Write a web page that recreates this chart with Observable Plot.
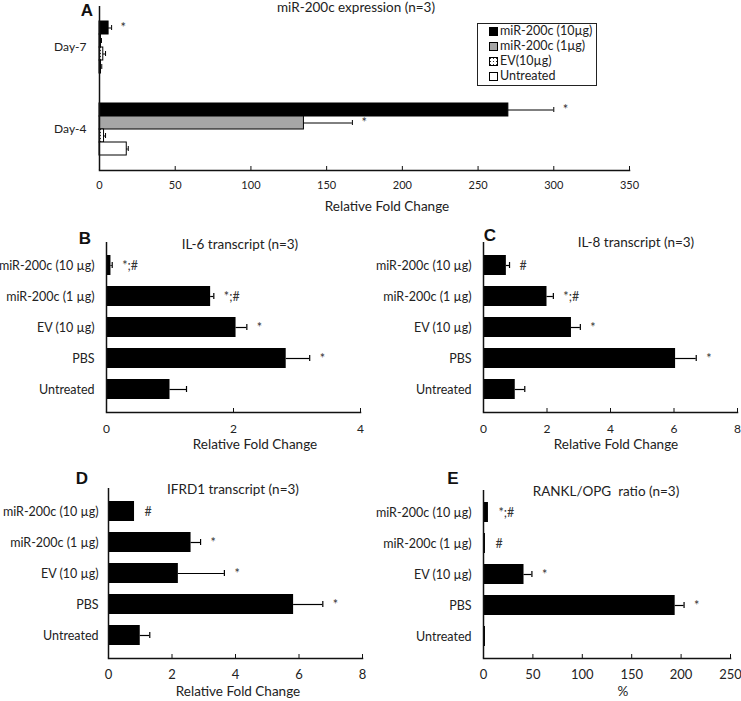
<!DOCTYPE html>
<html><head><meta charset="utf-8">
<script src="https://cdn.jsdelivr.net/npm/d3@7"></script>
<script src="https://cdn.jsdelivr.net/npm/@observablehq/plot@0.6"></script>
<style>
body{margin:0;background:#fff;}
#root{position:relative;width:741px;height:701px;font-family:Lato,sans-serif;color:#222;overflow:hidden;}
.abs{position:absolute;white-space:pre;line-height:1;}
.c{transform:translate(-50%,-50%);}
.title{font-size:13.5px;}
.xlab{font-size:13.5px;}
.letter{font-family:"Liberation Sans",Arial,sans-serif;font-weight:bold;font-size:17px;color:#111;}
#legend{left:477px;top:23px;width:120px;height:63px;border:1px solid #222;font-size:12.5px;padding:0 0 0 11px;box-sizing:border-box;}
#legend .row{height:15px;display:flex;align-items:center;}
#legend svg{margin-right:2px;}
</style></head><body>
<svg width="0" height="0" style="position:absolute"><defs>
<pattern id="evpat" width="3" height="3" patternUnits="userSpaceOnUse"><rect width="3" height="3" fill="#fff"/><rect x="1" y="1" width="1" height="1" fill="#333"/></pattern>
</defs></svg>
<div id="root"></div>
<script>
// ---------- Panel A data ----------
const groupsA = ["Day-7", "Day-4"];
const seriesA = ["miR-200c (10µg)", "miR-200c (1µg)", "EV(10µg)", "Untreated"];
const seriesFillsA = ["#000", "#a6a6a6", "url(#evpat)", "#fff"];
const day7Values = [6, 1, 2.5, 1];
const day7Errors = [2, 0.3, 1.5, 0.5];
const day7Marks = ["*", "", "", ""];
const day4Values = [270, 135, 3, 18];
const day4Errors = [30, 32, 1, 1];
const day4Marks = ["*", "*", "", ""];
const ticksA = [0, 50, 100, 150, 200, 250, 300, 350];

// ---------- Panels B-E data ----------
const categories = ["miR-200c (10 µg)", "miR-200c (1 µg)", "EV (10 µg)", "PBS", "Untreated"];
const il6Values = [0.07, 1.64, 2.04, 2.83, 1.0];
const il6Errors = [0.02, 0.05, 0.17, 0.37, 0.26];
const il6Marks = ["*;#", "*;#", "*", "*", ""];
const ticksB = [0, 2, 4];

const il8Values = [0.72, 2.0, 2.77, 6.05, 1.0];
const il8Errors = [0.1, 0.2, 0.28, 0.65, 0.3];
const il8Marks = ["#", "*;#", "*", "*", ""];
const ticksC = [0, 2, 4, 6, 8];

const ifrd1Values = [0.82, 2.6, 2.2, 5.83, 1.0];
const ifrd1Errors = [0, 0.3, 1.45, 0.92, 0.3];
const ifrd1Marks = ["#", "*", "*", "*", ""];
const ticksD = [0, 2, 4, 6, 8];

const rankValues = [5, 2, 41, 194, 2];
const rankErrors = [0, 0, 8, 9, 0];
const rankMarks = ["*;#", "#", "*", "*", ""];
const ticksE = [0, 50, 100, 150, 200, 250];

// ---------- helpers ----------
const root = document.getElementById("root");
function place(node, left, top) {
  const d = document.createElement("div");
  d.className = "abs";
  d.style.left = left + "px"; d.style.top = top + "px";
  d.appendChild(node); root.appendChild(d); return d;
}
function label(text, cx, cy, cls) {
  const d = document.createElement("div");
  d.className = "abs c " + cls;
  d.style.left = cx + "px"; d.style.top = cy + "px";
  d.textContent = text; root.appendChild(d);
}
const ink = "#111";

// ---------- Panel A ----------
const dataA = [];
groupsA.forEach((g, gi) => {
  const vals = gi === 0 ? day7Values : day4Values;
  const errs = gi === 0 ? day7Errors : day4Errors;
  const mks = gi === 0 ? day7Marks : day4Marks;
  seriesA.forEach((s, i) => dataA.push({g, s, v: vals[i], e: errs[i], hi: vals[i] + errs[i], m: mks[i]}));
});
const plotA = Plot.plot({
  width: 741, height: 200,
  marginLeft: 99, marginRight: 112, marginTop: 5, marginBottom: 30,
  style: {fontFamily: "Lato, sans-serif", fontSize: "11px", color: "#222", background: "transparent", overflow: "visible"},
  x: {domain: [0, 350]},
  y: {domain: seriesA, paddingInner: 0, paddingOuter: 0.95, axis: null},
  fy: {domain: groupsA, padding: 0},
  color: {domain: seriesA, range: seriesFillsA},
  marks: [
    Plot.barX(dataA, {x: "v", y: "s", fy: "g", fill: "s", stroke: "#000", strokeWidth: 1}),
    Plot.ruleY(dataA.filter(d => d.e > 0), {x1: "v", x2: "hi", y: "s", fy: "g", stroke: "#000"}),
    Plot.tickX(dataA.filter(d => d.e > 0), {x: "hi", y: "s", fy: "g", stroke: "#000", insetTop: 4, insetBottom: 4}),
    Plot.text(dataA.filter(d => d.m), {x: "hi", y: "s", fy: "g", text: "m", textAnchor: "start", dx: 9, fontSize: 13, fill: "#333"}),
    Plot.ruleX([0], {stroke: ink, strokeWidth: 1.5}),
    Plot.frame({anchor: "bottom", facetAnchor: "bottom", stroke: ink, strokeWidth: 1.5}),
    Plot.axisFy({anchor: "left", tickSize: 0, tickPadding: 13, label: null, fontSize: 12}),
    Plot.axisX(ticksA, {tickSize: 4, dy: -4, tickPadding: 11, label: null, stroke: ink, fontSize: 11})
  ]
});
place(plotA, 0, 0);

// ---------- Panels B-E ----------
function panel(values, errors, marksTxt, ticks, opts) {
  const data = categories.map((c, i) => ({cat: c, v: values[i], e: errors[i], hi: values[i] + errors[i], m: marksTxt[i]}));
  return Plot.plot({
    width: opts.width, height: opts.height,
    marginLeft: opts.ml, marginRight: opts.mr, marginTop: opts.mt, marginBottom: opts.mb,
    style: {fontFamily: "Lato, sans-serif", fontSize: "12px", color: "#222", background: "transparent", overflow: "visible"},
    x: {domain: [ticks[0], ticks[ticks.length - 1]]},
    y: {domain: categories, padding: 0.35},
    marks: [
      Plot.barX(data, {x: "v", y: "cat", fill: "#000"}),
      Plot.ruleY(data.filter(d => d.e > 0), {x1: "v", x2: "hi", y: "cat", stroke: "#000", strokeWidth: 1.2}),
      Plot.tickX(data.filter(d => d.e > 0), {x: "hi", y: "cat", stroke: "#000", strokeWidth: 1.2, insetTop: 7, insetBottom: 7}),
      Plot.text(data.filter(d => d.m), {x: "hi", y: "cat", text: "m", textAnchor: "start", dx: 10, fontSize: 12.5, fill: "#333"}),
      Plot.ruleX([0], {stroke: ink, strokeWidth: 1.5}),
      Plot.frame({anchor: "bottom", stroke: ink, strokeWidth: 1.5}),
      Plot.axisY({tickSize: 0, tickPadding: opts.yPad, label: null, fontSize: 12.5}),
      Plot.axisX(ticks, {tickSize: 4, dy: -4, tickPadding: opts.xPad, label: null, stroke: ink, fontSize: opts.xFont})
    ]
  });
}
place(panel(il6Values, il6Errors, il6Marks, ticksB,
  {width: 370, height: 215, ml: 106, mr: 10, mt: 12, mb: 33, yPad: 12, xPad: 12, xFont: 12}), 0, 230);
place(panel(il8Values, il8Errors, il8Marks, ticksC,
  {width: 371, height: 215, ml: 113, mr: 4, mt: 12, mb: 33, yPad: 12, xPad: 12, xFont: 12}), 370, 230);
place(panel(ifrd1Values, ifrd1Errors, ifrd1Marks, ticksD,
  {width: 370, height: 215, ml: 108, mr: 8, mt: 18, mb: 27, yPad: 10, xPad: 11, xFont: 13}), 0, 470);
place(panel(rankValues, rankErrors, rankMarks, ticksE,
  {width: 371, height: 215, ml: 113, mr: 11, mt: 20, mb: 27, yPad: 12, xPad: 11, xFont: 13}), 370, 470);

// ---------- Titles, axis labels, panel letters ----------
label("miR-200c expression (n=3)", 356, 8, "title");
label("Relative Fold Change", 387, 207, "xlab");
label("IL-6 transcript (n=3)", 240, 245, "title");
label("IL-8 transcript (n=3)", 636, 243, "title");
label("IFRD1 transcript (n=3)", 233, 490, "title");
label("RANKL/OPG  ratio (n=3)", 606, 492, "title");
label("Relative Fold Change", 255, 445, "xlab");
label("Relative Fold Change", 616, 445, "xlab");
label("Relative Fold Change", 238, 692, "xlab");
label("%", 623, 692, "xlab");
label("A", 87, 10, "letter");
label("B", 85, 238, "letter");
label("C", 490, 235, "letter");
label("D", 82, 478, "letter");
label("E", 453, 478, "letter");

// ---------- Legend (panel A) ----------
const legend = document.createElement("div");
legend.id = "legend"; legend.className = "abs";
seriesA.forEach((s, i) => {
  const row = document.createElement("div"); row.className = "row";
  row.innerHTML = `<svg width="9" height="9"><rect x="0.5" y="0.5" width="8" height="8" fill="${seriesFillsA[i]}" stroke="#000" stroke-width="1"/></svg><span>${s}</span>`;
  legend.appendChild(row);
});
root.appendChild(legend);
</script>
</body></html>
